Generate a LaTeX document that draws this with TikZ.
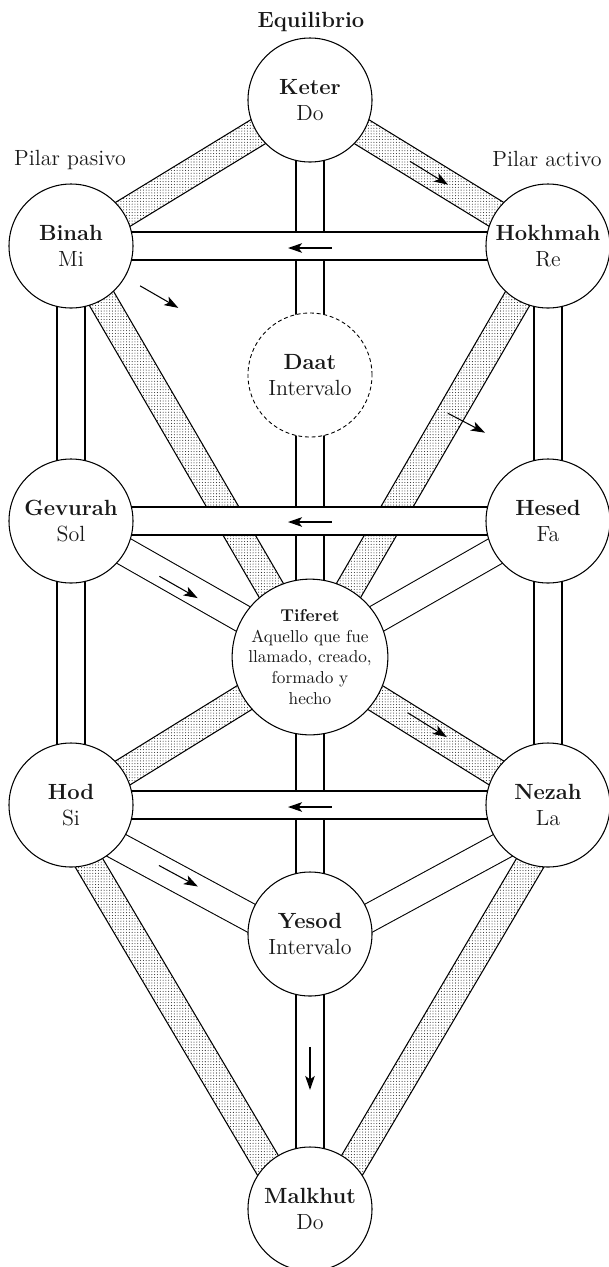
\documentclass[tikz,border=0pt]{standalone}
\usepackage{fontspec}
\usepackage{tikz}
\usetikzlibrary{positioning,arrows.meta,calc,backgrounds}
\usetikzlibrary{patterns.meta}

\tikzset{
  sefira/.style={circle, draw, line width=0.6pt, fill=white, minimum size=24.8mm,
    inner sep=0pt, align=center, text=black!90, font=\fontsize{12.5}{14.5}\selectfont},
  plainband/.style={line width=0.6pt, double=white, double distance=5.39mm},
  dotband/.style={line width=0.6pt, preaction={fill=white},
    pattern={Dots[distance=1.6pt, radius=0.3pt]}, pattern color=black!85},
  flow/.style={-{Stealth[length=8pt,width=5.5pt,inset=2pt]}, line width=0.6pt},
  pillar/.style={anchor=base, text=black!90, font=\fontsize{12.5}{14.5}\selectfont}
}

% stippled path between two sefirot, optional sideways offset
\newcommand{\stipplepath}[3][0mm]{%
  \draw[dotband] ($(#2)!#1+2.8mm!90:(#3)$) -- ($(#3)!#1+2.8mm!-90:(#2)$)
    -- ($(#3)!#1-2.8mm!-90:(#2)$) -- ($(#2)!#1-2.8mm!90:(#3)$) -- cycle;}

\begin{document}
\begin{tikzpicture}[x=0.2mm,y=-0.2mm]
  \useasboundingbox (0,0) rectangle (609,1267);

  % sefirot
  \node[sefira] (keter) at (310,100) {\textbf{Keter}\\Do};
  \node[sefira] (binah) at (71,246) {\textbf{Binah}\\Mi};
  \node[sefira] (hokhmah) at (548,246) {\textbf{Hokhmah}\\Re};
  \node[sefira, dash pattern=on 2.2pt off 1.6pt, line width=0.5pt] (daat) at (310,375) {\textbf{Daat}\\Intervalo};
  \node[sefira] (gevurah) at (71,521) {\textbf{Gevurah}\\Sol};
  \node[sefira] (hesed) at (548,521) {\textbf{Hesed}\\Fa};
  \node[sefira, font=\fontsize{9.8}{11.8}\selectfont] (tiferet) at (310,657)
    {\textbf{Tiferet}\\Aquello que fue\\llamado, creado,\\formado y\\hecho};
  \node[sefira] (hod) at (71,805) {\textbf{Hod}\\Si};
  \node[sefira] (nezah) at (548,805) {\textbf{Nezah}\\La};
  \node[sefira] (yesod) at (310,934) {\textbf{Yesod}\\Intervalo};
  \node[sefira] (malkhut) at (310,1209) {\textbf{Malkhut}\\Do};

  % pillars
  \node[pillar, font=\fontsize{12.5}{14.5}\selectfont\bfseries] (equilibrio) at (311,27) {Equilibrio};
  \node[pillar] (pasivo) at (70,165) {Pilar pasivo};
  \node[pillar] (activo) at (547,166) {Pilar activo};

  \begin{scope}[on background layer]
    % vertical paths
    \draw[plainband] (keter.center) -- (tiferet.center);
    \draw[plainband] (binah.center) -- (hod.center);
    \draw[plainband] (hokhmah.center) -- (nezah.center);
    \draw[plainband] (tiferet.center) -- (malkhut.center);
    % diagonal paths
    \draw[plainband] (gevurah.center) -- (tiferet.center);
    \draw[plainband] (hesed.center) -- (tiferet.center);
    \draw[plainband] ($(hod)!-2.8mm!90:(yesod)$) -- ($(yesod)!-2.8mm!-90:(hod)$);
    \draw[plainband] ($(nezah)!2.8mm!90:(yesod)$) -- ($(yesod)!2.8mm!-90:(nezah)$);
    % stippled paths
    \stipplepath{keter}{binah}
    \stipplepath{keter}{hokhmah}
    \stipplepath{binah}{tiferet}
    \stipplepath{hokhmah}{tiferet}
    \stipplepath{tiferet}{hod}
    \stipplepath{tiferet}{nezah}
    \stipplepath[-2.8mm]{hod}{malkhut}
    \stipplepath[2.8mm]{nezah}{malkhut}
    % horizontal paths
    \draw[plainband] (binah.center) -- (hokhmah.center);
    \draw[plainband] (gevurah.center) -- (hesed.center);
    \draw[plainband] (hod.center) -- (nezah.center);
  \end{scope}

  % flow
  \draw[flow] ($(keter)!0.42!(hokhmah)$) -- ($(keter)!0.58!(hokhmah)$);
  \draw[flow] ($(hokhmah)!0.453!(binah)+(0,2)$) -- ($(hokhmah)!0.545!(binah)+(0,2)$);
  \draw[flow] ($(binah)!0.145!(hesed)$) -- ($(binah)!0.225!(hesed)$);
  \draw[flow] ($(binah)!0.79!(hesed)+(0,-50)$) -- ($(binah)!0.868!(hesed)+(0,-52)$);
  \draw[flow] ($(hesed)!0.453!(gevurah)+(0,1)$) -- ($(hesed)!0.545!(gevurah)+(0,1)$);
  \draw[flow] ($(gevurah)!0.37!(tiferet)+(0,5)$) -- ($(gevurah)!0.53!(tiferet)+(0,5)$);
  \draw[flow] ($(tiferet)!0.41!(nezah)+(0,-5)$) -- ($(tiferet)!0.575!(nezah)+(0,-5)$);
  \draw[flow] ($(nezah)!0.453!(hod)+(0,2)$) -- ($(nezah)!0.545!(hod)+(0,2)$);
  \draw[flow] ($(hod)!0.368!(yesod)+(0,13)$) -- ($(hod)!0.531!(yesod)+(0,13)$);
  \draw[flow] ($(yesod)!0.41!(malkhut)$) -- ($(yesod)!0.567!(malkhut)$);
\end{tikzpicture}
\end{document}
